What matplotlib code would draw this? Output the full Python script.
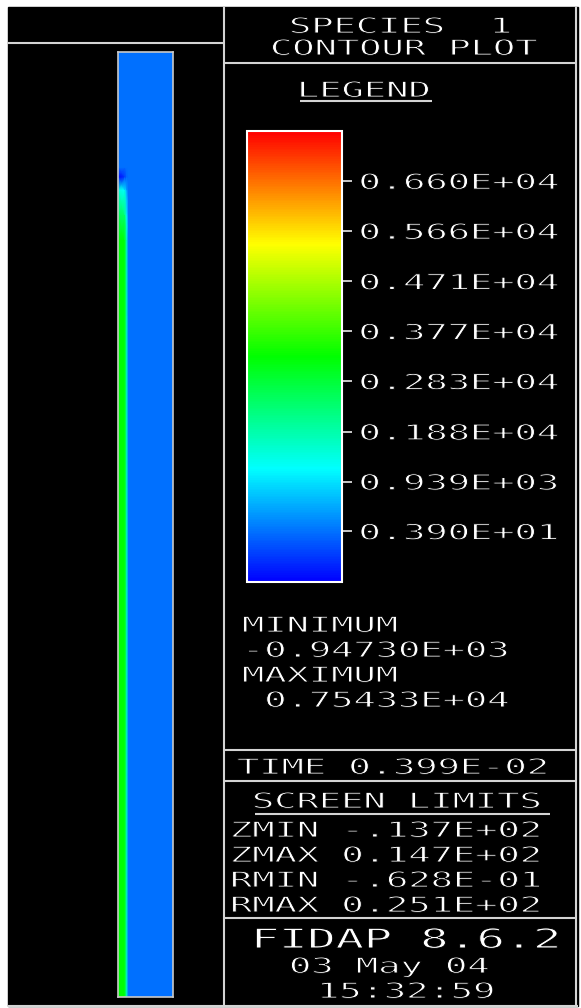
import matplotlib
matplotlib.use("Agg")
import matplotlib.pyplot as plt
from matplotlib import patheffects
from matplotlib.colors import LinearSegmentedColormap, Normalize
from matplotlib.patches import Rectangle
from matplotlib.transforms import Affine2D

# ---------------------------------------------------------------- data
# colour legend (species 1 concentration)
legend_levels = [6600, 5660, 4710, 3770, 2830, 1880, 939, 3.9]
legend_labels = ["0.660E+04", "0.566E+04", "0.471E+04", "0.377E+04",
                 "0.283E+04", "0.188E+04", "0.939E+03", "0.390E+01"]
field_min = -947.30
field_max = 7543.3
min_label = "-0.94730E+03"
max_label = " 0.75433E+04"

# nodal species-1 values on the channel section
# columns: radial stations (fraction of width, wall on the left)
# rows: axial stations (fraction of length, measured from the bottom)
r_stations = [0.0, 0.12, 0.155, 0.19, 1.0]
z_stations = [0.0, 0.801, 0.828, 0.854, 0.868, 0.878, 1.0]
species_1 = [
    [3300, 3250, 1800, 0, 0],
    [3300, 3250, 1800, 0, 0],
    [2600, 2400, 1200, 0, 0],
    [1500, 1200, 500, 0, 0],
    [-900, -500, -100, 0, 0],
    [0, 0, 0, 0, 0],
    [0, 0, 0, 0, 0],
]

time_label = "TIME 0.399E-02"
screen_limits = ["ZMIN -.137E+02", "ZMAX 0.147E+02",
                 "RMIN -.628E-01", "RMAX 0.251E+02"]
program = "FIDAP 8.6.2"
run_date = "03 May 04"
run_time = "15:32:59"

# ---------------------------------------------------------------- style
W, H = 581, 1008
plt.rcParams["font.family"] = ["DejaVu Sans Mono", "DejaVu Sans"]
LINE = "#d4d4d4"

spectrum = LinearSegmentedColormap.from_list(
    "spectrum", ["#0000ff", "#00ffff", "#00ff00", "#ffff00", "#ff0000"])
norm = Normalize(vmin=field_min, vmax=field_max)


class WideGlyphs(patheffects.AbstractPathEffect):
    """Widen glyphs horizontally about the text origin and thin their
    strokes with a background-coloured outline (plotter-font look)."""

    def __init__(self, sx, thin=0.7, bg="black"):
        super().__init__()
        self.sx = sx
        self.thin = thin
        self.bg = bg

    def draw_path(self, renderer, gc, tpath, affine, rgbFace=None):
        tr = Affine2D().scale(self.sx, 1.0) + affine
        renderer.draw_path(gc, tpath, tr, rgbFace)
        gc0 = renderer.new_gc()
        gc0.copy_properties(gc)
        gc0.set_linewidth(self.thin)
        gc0.set_foreground(self.bg)
        renderer.draw_path(gc0, tpath, tr, None)
        gc0.restore()


fig = plt.figure(figsize=(W / 100, H / 100), dpi=100)
fig.patch.set_facecolor("white")

bg = fig.add_axes([0, 0, 1, 1])
bg.set_xlim(0, W)
bg.set_ylim(H, 0)
bg.axis("off")
bg.add_patch(Rectangle((8, 7), 570, 999, color="black", zorder=0))


def hline(y, x0, x1):
    bg.plot([x0, x1], [y, y], color=LINE, lw=1.5, solid_capstyle="butt")


def vline(x, y0, y1):
    bg.plot([x, x], [y0, y1], color=LINE, lw=1.5, solid_capstyle="butt")


def label(x, y, s, size=15.5, sx=1.72):
    bg.text(x, y, s, color="white", fontsize=size, ha="left", va="baseline",
            path_effects=[WideGlyphs(sx)])


def px_axes(x0, y0, x1, y1):
    return fig.add_axes([x0 / W, 1 - y1 / H, (x1 - x0) / W, (y1 - y0) / H])


# panel frames
hline(43, 8, 224)
vline(224, 7, 1006)
vline(575.5, 7, 1006)
hline(63, 224, 575.5)
hline(750, 224, 575.5)
hline(781, 224, 575.5)
hline(918, 224, 575.5)
hline(1005.5, 8, 578)

# contour field
fax = px_axes(118, 52, 173, 997)
mesh = fax.pcolormesh(r_stations, z_stations, species_1, shading="gouraud",
                      cmap=spectrum, norm=norm)
fax.set_xlim(0, 1)
fax.set_ylim(0, 1)
fax.set_xticks([])
fax.set_yticks([])
for sp in fax.spines.values():
    sp.set_color("#c8c8c8")
    sp.set_linewidth(1.2)

# colour legend
cax = px_axes(247, 131, 342, 582)
cb = fig.colorbar(mesh, cax=cax, ticks=legend_levels)
cb.set_ticklabels(legend_labels)
cb.outline.set_edgecolor("white")
cb.outline.set_linewidth(1.5)
cax.tick_params(axis="y", colors="white", length=7.2, width=1.1, pad=4.7,
                labelsize=15.5, right=True, left=False)
for tick in cax.yaxis.get_major_ticks():
    tick.label1.set_path_effects([WideGlyphs(1.72)])
    tick.label2.set_path_effects([WideGlyphs(1.72)])

# header
label(289, 33, "SPECIES  1")
label(270, 55, "CONTOUR PLOT")
label(297, 97, "LEGEND")
hline(101, 300, 432)

# extremes
label(242, 632, "MINIMUM")
label(242, 657, min_label)
label(242, 682, "MAXIMUM")
label(242, 707, max_label)

# time and screen limits
label(237, 774, time_label)
label(252, 808, "SCREEN LIMITS")
hline(813.5, 255, 550)
for i, s in enumerate(screen_limits):
    label(230, 837 + 25 * i, s)

# program stamp
label(251, 948, program, size=19.5, sx=1.73)
label(289, 973, run_date)
label(317, 998, run_time)

fig.savefig("out.png", dpi=100, facecolor="white")
